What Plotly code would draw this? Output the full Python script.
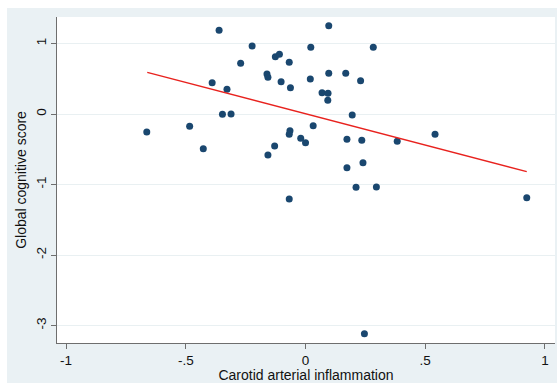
import plotly.graph_objects as go

# Data
inflammation = [-0.663, -0.484, -0.427, -0.361, -0.390, -0.328, -0.347, -0.311, -0.271, -0.223,
                -0.161, -0.157, -0.126, -0.109, -0.068, -0.102, -0.063, -0.157, -0.129, -0.065,
                -0.068, -0.020, 0.000, -0.068, 0.022, 0.097, 0.020, 0.097, 0.168, 0.230,
                0.069, 0.094, 0.093, 0.195, 0.032, 0.173, 0.173, 0.211, 0.235, 0.240,
                0.246, 0.283, 0.296, 0.383, 0.541, 0.924]
cognitive = [-0.255, -0.175, -0.492, 1.187, 0.444, 0.350, -0.005, 0.000, 0.719, 0.965,
             0.567, 0.520, 0.813, 0.847, 0.733, 0.459, 0.374, -0.582, -0.454, -0.236,
             -0.288, -0.344, -0.407, -1.206, 0.946, 1.252, 0.496, 0.577, 0.577, 0.473,
             0.301, 0.293, 0.194, -0.014, -0.165, -0.359, -0.761, -1.040, -0.373, -0.690,
             -3.116, 0.946, -1.035, -0.387, -0.288, -1.187]

fit_x = [-0.661, 0.924]
fit_y = [0.591, -0.818]

x_ticks = [-1, -0.5, 0, 0.5, 1]
x_tick_labels = ["-1", "-.5", "0", ".5", "1"]
y_ticks = [-3, -2, -1, 0, 1]
y_tick_labels = ["-3", "-2", "-1", "0", "1"]

BG = "#eaf1f4"
NAVY = "#1a476f"

fig = go.Figure()
fig.add_trace(go.Scatter(x=inflammation, y=cognitive, mode="markers",
                         marker=dict(color=NAVY, size=7, line=dict(width=0)),
                         showlegend=False))
fig.add_trace(go.Scatter(x=fit_x, y=fit_y, mode="lines",
                         line=dict(color="#e8221e", width=1.4), showlegend=False))

font = "Liberation Sans, Arial, Helvetica, sans-serif"
fig.update_layout(
    width=557, height=383,
    margin=dict(l=57, r=2, t=17, b=40),
    paper_bgcolor=BG, plot_bgcolor="white",
    font=dict(family=font, size=13, color="#111111"),
    xaxis=dict(range=[-1.038, 1.042], tickvals=x_ticks, ticktext=x_tick_labels,
               showgrid=False, zeroline=False, showline=True, linecolor="#6e6e6e",
               linewidth=1, ticks="outside", ticklen=5, tickcolor="#6e6e6e",
               tickfont=dict(size=13.5),
               title=dict(text="Carotid arterial inflammation", standoff=3,
                          font=dict(size=14))),
    yaxis=dict(range=[-3.248, 1.376], tickvals=y_ticks, ticktext=y_tick_labels,
               showgrid=True, gridcolor="#e9f0f2", gridwidth=1,
               zeroline=False, showline=True, linecolor="#6e6e6e",
               linewidth=1, ticks="outside", ticklen=5, tickcolor="#6e6e6e",
               tickangle=-90, tickfont=dict(size=13.5),
               title=dict(text="Global cognitive score", standoff=3,
                          font=dict(size=14))),
    shapes=[
        dict(type="rect", xref="paper", yref="paper", x0=-0.2, x1=1.1,
             y0=(343 - 8) / 326, y1=1.2, fillcolor="white", line=dict(width=0),
             layer="above"),
        dict(type="rect", xref="paper", yref="paper", x0=-0.2, x1=(7 - 57) / 498,
             y0=-0.2, y1=1.2, fillcolor="white", line=dict(width=0),
             layer="above"),
    ],
)

fig.write_html("out.html")
